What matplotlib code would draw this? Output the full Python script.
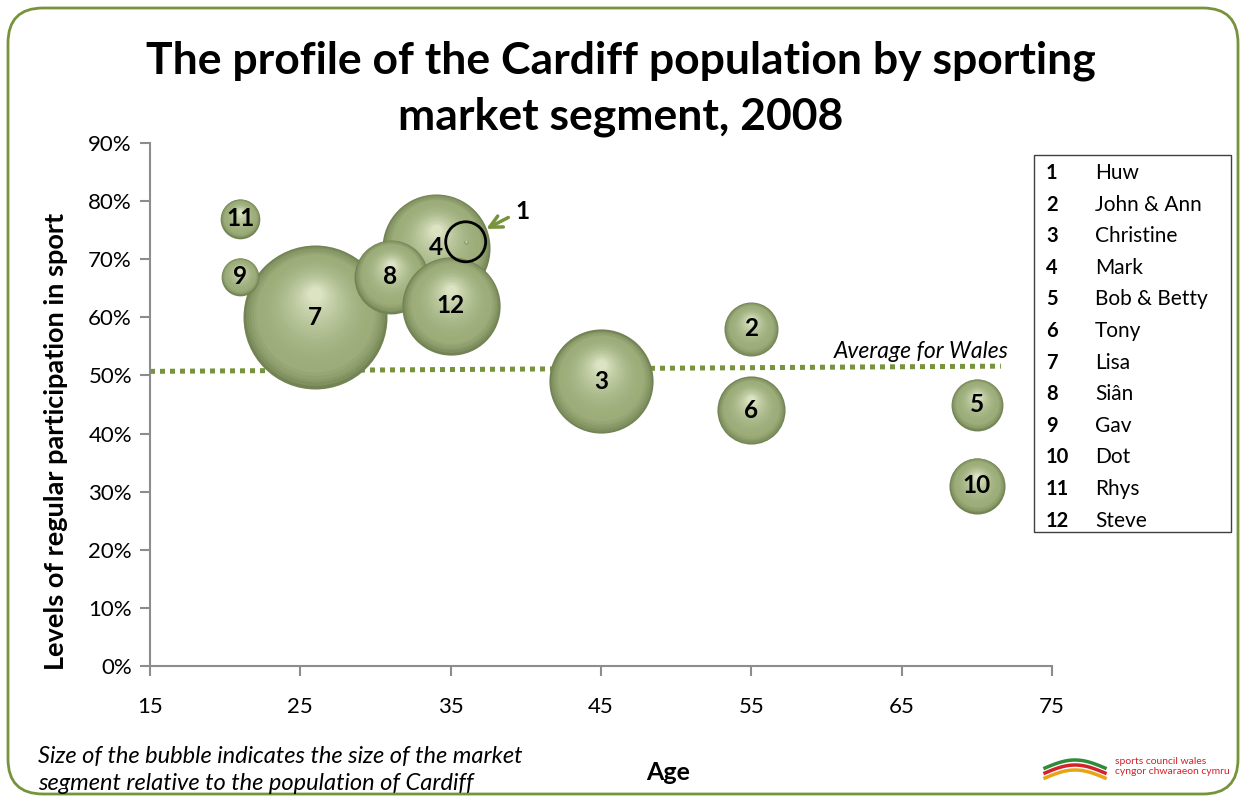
"""
Cardiff population by sporting market segment, 2008 — bubble chart.
"""
import numpy as np
import matplotlib
matplotlib.use("Agg")
import matplotlib.pyplot as plt
from matplotlib.patches import FancyBboxPatch, Rectangle
from matplotlib.transforms import ScaledTranslation
from matplotlib.colors import to_rgb

plt.rcParams["font.family"] = ["Lato", "DejaVu Sans"]

# ── data ────────────────────────────────────────────────────────────────────
seg_ids = [1, 2, 3, 4, 5, 6, 7, 8, 9, 10, 11, 12]
seg_names = ["Huw", "John & Ann", "Christine", "Mark", "Bob & Betty", "Tony",
             "Lisa", "Siân", "Gav", "Dot", "Rhys", "Steve"]
ages = [36, 55, 45, 34, 70, 55, 26, 31, 21, 70, 21, 35]
participation = [73, 58, 49, 72, 45, 44, 60, 67, 67, 31, 77, 62]
# share of Cardiff population (%) — sets bubble area
share = [0.02, 3.9, 14.5, 15.6, 3.6, 6.2, 27.7, 7.3, 1.9, 4.2, 2.1, 12.9]

avg_x = [15, 71.6]
avg_y = [50.7, 51.6]

x_ticks = [15, 25, 35, 45, 55, 65, 75]
y_ticks = [0, 10, 20, 30, 40, 50, 60, 70, 80, 90]

# ── figure ──────────────────────────────────────────────────────────────────
DPI = 100
fig = plt.figure(figsize=(12.41, 7.98), dpi=DPI)
ax = fig.add_axes([150 / 1241, 132 / 798, 902 / 1241, 523 / 798])
ax.set_xlim(15, 75)
ax.set_ylim(0, 90)

grey = "#8c8c8c"
for side in ["top", "right"]:
    ax.spines[side].set_visible(False)
for side in ["left", "bottom"]:
    ax.spines[side].set_color(grey)
    ax.spines[side].set_linewidth(1.5)
ax.set_xticks(x_ticks)
ax.set_yticks(y_ticks)
ax.set_yticklabels([f"{v}%" for v in y_ticks])
ax.tick_params(axis="both", colors=grey, labelcolor="black", labelsize=16,
               length=7, width=1.5)
ax.tick_params(axis="x", pad=15)
ax.tick_params(axis="y", pad=6)

# average line
green = "#77933c"
ax.plot(avg_x, avg_y, color=green, lw=3.6, ls=(0, (1, 1)), zorder=1)
ax.text(72.1, 52.3, "Average for Wales", style="italic", fontsize=16.5,
        ha="right", va="bottom")

# bubbles with simple sphere shading
dark = np.array(to_rgb("#738354"))
mid = np.array(to_rgb("#9cad7a"))
light = np.array(to_rgb("#dbe3c3"))
PX_PER_SQRT = 13.68  # bubble radius in px per sqrt(share)


def draw_bubble(x, y, sh, z):
    r_pt = PX_PER_SQRT * np.sqrt(sh) * 72 / DPI
    n = 26
    for i in range(n):
        t = i / (n - 1)
        rr = r_pt * (1 - 0.9 * t)
        if t < 0.2:
            col = dark + (mid - dark) * (t / 0.2) ** 0.7
        else:
            col = mid + (light - mid) * ((t - 0.2) / 0.8) ** 1.8
        off = ScaledTranslation(0, 0.32 * r_pt * t / 72, fig.dpi_scale_trans)
        ax.scatter([x], [y], s=(2 * rr) ** 2, color=col, lw=0,
                   transform=ax.transData + off, zorder=z + i * 0.001)


draw_order = [7, 4, 8, 12, 3, 2, 6, 5, 10, 9, 11, 1]
for k, sid in enumerate(draw_order):
    i = seg_ids.index(sid)
    draw_bubble(ages[i], participation[i], share[i], 2 + k * 0.1)

# labels inside bubbles
for i, sid in enumerate(seg_ids):
    if sid == 1:
        continue
    ax.text(ages[i], participation[i], str(sid), fontsize=17.5,
            fontweight="bold", ha="center", va="center", zorder=10)

# segment 1 highlight
i1 = seg_ids.index(1)
ax.scatter([ages[i1]], [participation[i1]], s=(2 * 20 * 0.72) ** 2,
           facecolor="none", edgecolor="black", lw=2, zorder=11)
ax.annotate("", xy=(37.2, 75.0), xytext=(39.0, 77.4),
            arrowprops=dict(arrowstyle="->", color=green, lw=2.5,
                            mutation_scale=22), zorder=11)
ax.text(39.8, 78.2, "1", fontsize=17.5, fontweight="bold", ha="center",
        va="center")

ax.set_ylabel("Levels of regular participation in sport", fontsize=19.5,
              fontweight="bold")
ax.yaxis.set_label_coords(-0.091, 0.43)

# ── figure-level texts ──────────────────────────────────────────────────────
fig.text(0.5, 1 - 61 / 798, "The profile of the Cardiff population by sporting",
         ha="center", va="center", fontsize=32, fontweight="bold")
fig.text(0.5, 1 - 117 / 798, "market segment, 2008", ha="center", va="center",
         fontsize=32, fontweight="bold")
fig.text(668 / 1241, 1 - 772 / 798, "Age", ha="center", va="center",
         fontsize=18, fontweight="bold")
fig.text(38 / 1241, 1 - 757 / 798,
         "Size of the bubble indicates the size of the market",
         style="italic", fontsize=17, va="center")
fig.text(38 / 1241, 1 - 784 / 798,
         "segment relative to the population of Cardiff",
         style="italic", fontsize=17, va="center")

# legend box
fig.patches.append(Rectangle((1034 / 1241, 1 - 532 / 798), 197 / 1241,
                             377 / 798, transform=fig.transFigure,
                             facecolor="white", edgecolor="#404040", lw=1))
for k, (sid, name) in enumerate(zip(seg_ids, seg_names)):
    yy = 1 - (173 + k * 31.6) / 798
    fig.text(1046 / 1241, yy, str(sid), fontsize=14.5, fontweight="bold",
             va="center")
    fig.text(1095 / 1241, yy, name, fontsize=15, va="center")

# logo text
fig.text(1115 / 1241, 1 - 761 / 798, "sports council wales", color="#d2232a",
         fontsize=7.5, va="center")
fig.text(1115 / 1241, 1 - 772 / 798, "cyngor chwaraeon cymru",
         color="#d2232a", fontsize=7.5, va="center")
for col, dy in [("#2e8b3a", 0), ("#d2232a", 5), ("#e8a317", 10)]:
    xs = np.linspace(1045, 1105, 30)
    ys = 798 - (768 + dy) + 8 * np.sin((xs - 1045) / 60 * np.pi)
    fig.lines.append(plt.Line2D(xs / 1241, ys / 798, color=col, lw=2.5,
                                transform=fig.transFigure))

# rounded frame
fig.patches.append(FancyBboxPatch((8, 4), 1230, 786,
                                  boxstyle="round,pad=0,rounding_size=35",
                                  transform=None, facecolor="none",
                                  edgecolor=green, lw=2))

fig.savefig("out.png", dpi=DPI)
